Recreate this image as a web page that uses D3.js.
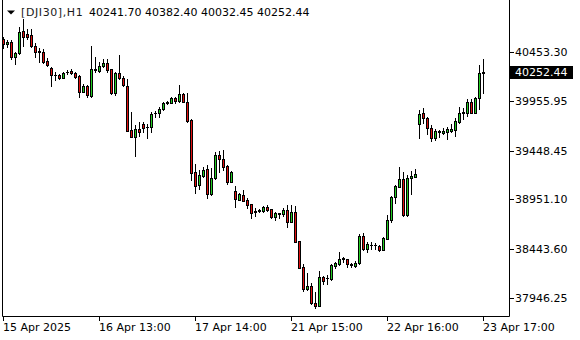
<!DOCTYPE html>
<html><head><meta charset="utf-8">
<script src="https://cdn.jsdelivr.net/npm/d3@7"></script>
<style>html,body{margin:0;padding:0;background:#fff;}svg{display:block;}</style>
</head><body>
<script>
const symbol = "DJI30", timeframe = "H1";
const open = [
40582.7,40531.7,40558.2,40405.4,40440.0,40667.3,40641.8,40626.6,40514.4,40458.4,
40450.2,40364.6,40295.3,40221.0,40218.9,40191.4,40244.4,40259.7,40236.2,40208.7,
40048.7,40106.8,40004.9,40277.0,40259.7,40310.6,40344.2,40277.0,40032.4,40236.2,
40191.4,40106.8,39658.4,39590.1,39665.5,39716.4,39687.9,39685.9,39826.6,39828.6,
39869.3,39930.5,39936.6,39981.5,39953.9,40025.2,39946.8,39760.3,39227.3,39097.9,
39189.6,39260.9,39003.1,39166.1,39403.6,39359.8,39291.5,39131.5,39036.8,38945.0,
38996.0,38950.0,38901.2,38829.8,38840.0,38829.8,38876.7,38850.2,38768.7,38811.5,
38799.2,38843.1,38723.9,38819.6,38527.2,38259.1,38038.0,38068.6,37898.3,37869.8,
38157.2,38149.1,38136.8,38272.4,38292.7,38343.7,38343.7,38291.7,38272.4,38299.9,
38578.1,38445.6,38488.4,38484.4,38476.2,38435.4,38547.5,38741.2,38972.5,39080.6,
39159.0,38792.1,39166.1,39182.4,39716.4,39828.6,39777.6,39675.7,39579.9,39643.1,
39630.9,39641.0,39651.2,39658.4,39743.0,39828.6,39828.6,39940.7,39834.7,39981.5,
40241.70];
const high = [
40609.2,40575.6,40570.5,40453.3,40708.1,40794.7,40684.6,40684.6,40542.0,40491.0,
40480.8,40389.1,40300.4,40252.5,40229.1,40252.5,40269.9,40280.1,40249.5,40218.9,
40127.2,40117.0,40514.4,40405.4,40354.4,40378.9,40378.9,40280.1,40244.4,40422.7,
40208.7,40175.1,39838.8,39709.3,39736.8,39736.8,39716.4,39838.8,39855.1,39889.7,
39943.7,39959.0,39997.7,39997.7,40117.0,40038.5,40038.5,39765.4,39311.9,39250.7,
39284.4,39301.7,39274.2,39431.1,39447.4,39454.5,39301.7,39235.5,39087.7,39016.3,
39052.0,38962.3,38909.3,38863.4,38853.2,38883.8,38894.0,38853.2,38822.7,38817.6,
38860.4,38894.0,38889.0,38883.8,38532.2,38292.7,38198.0,38096.0,38004.3,38221.5,
38170.5,38180.7,38292.7,38316.2,38418.1,38367.1,38348.8,38306.0,38323.3,38595.5,
38611.8,38513.9,38520.0,38509.8,38486.4,38564.8,38792.1,38985.8,39100.9,39281.4,
39233.4,39199.8,39240.6,39257.8,39862.2,39879.5,39787.8,39709.3,39663.5,39658.4,
39675.7,39692.0,39719.5,39777.6,39895.8,39879.5,39974.3,39974.3,39997.7,40320.8,
40382.40];
const low = [
40491.0,40504.3,40382.0,40327.9,40433.0,40514.4,40585.8,40504.3,40405.4,40354.4,
40338.1,40310.6,40106.8,40167.9,40178.1,40188.3,40229.1,40229.1,40188.3,39997.7,
40045.6,39994.7,39994.7,40252.5,40249.5,40305.5,40252.5,40025.2,40015.1,40178.1,
40106.8,39648.2,39584.0,39393.4,39600.3,39641.0,39573.8,39641.0,39787.8,39787.8,
39862.2,39923.4,39930.5,39930.5,39943.7,39943.7,39743.0,39148.8,39019.4,39054.1,
39179.4,38962.3,38996.0,39159.0,39230.4,39250.7,39105.0,39123.4,38876.7,38939.9,
38934.8,38863.4,38766.6,38785.0,38822.7,38822.7,38836.0,38761.5,38736.1,38761.5,
38781.9,38672.9,38720.8,38517.0,38252.0,38020.6,38027.8,37885.1,37841.3,37864.7,
38094.0,38085.9,38129.7,38248.9,38287.6,38316.2,38259.1,38265.2,38259.1,38292.7,
38440.5,38418.1,38442.6,38442.6,38425.2,38430.4,38542.5,38720.8,38917.5,39077.5,
38787.0,38787.0,39011.2,39176.3,39579.9,39732.7,39614.5,39549.3,39561.5,39590.1,
39617.6,39566.6,39641.0,39600.3,39734.8,39767.4,39804.1,39828.6,39828.6,39872.3,
40032.45];
const close = [
40531.7,40558.2,40405.4,40446.2,40660.2,40609.2,40611.2,40517.5,40456.3,40454.3,
40354.4,40320.8,40218.9,40216.9,40191.4,40242.3,40248.5,40236.2,40201.6,40045.6,
40106.8,40010.0,40277.0,40266.8,40310.6,40341.2,40269.9,40032.4,40236.2,40185.3,
40117.0,39651.2,39590.1,39665.5,39641.0,39681.8,39683.9,39821.4,39830.6,39869.3,
39933.5,39946.8,39984.5,39957.0,40025.2,39946.8,39753.2,39223.2,39087.7,39199.8,
39250.7,39003.1,39166.1,39403.6,39359.8,39284.4,39131.5,39227.3,38952.2,39006.1,
38937.8,38899.1,38817.6,38825.8,38836.0,38873.6,38843.1,38768.7,38812.5,38807.4,
38843.1,38723.9,38819.6,38520.0,38257.0,38038.0,38068.6,37892.2,37864.7,38157.2,
38122.6,38145.0,38282.6,38306.0,38340.6,38353.9,38289.7,38287.6,38306.0,38578.1,
38445.6,38496.6,38484.4,38488.4,38430.4,38554.7,38741.2,38978.6,39087.7,39156.0,
38792.1,39166.1,39189.6,39206.9,39821.4,39777.6,39675.7,39579.9,39648.2,39639.0,
39651.2,39668.6,39668.6,39750.1,39828.6,39844.9,39940.7,39834.7,39981.5,40236.2,
40252.44];
const priceTicks = [40453.30, 39955.95, 39448.45, 38951.10, 38443.60, 37946.25];
const timeTickBars = [0, 24, 48, 72, 96, 120];
const timeTickLabels = ["15 Apr 2025", "16 Apr 13:00", "17 Apr 14:00", "21 Apr 15:00", "22 Apr 16:00", "23 Apr 17:00"];

const W = 580, H = 340;
const FONT = "DejaVu Sans, sans-serif";
const plotL = 2, plotR = 509, plotB = 316;
const svg = d3.select("body").append("svg").attr("width", W).attr("height", H)
  .style("font-family", FONT);
svg.append("rect").attr("width", W).attr("height", H).attr("fill", "#fff");

const n = open.length;
const x = d3.scaleLinear().domain([0, 120]).range([3.5, 483.5]);
const y = d3.scaleLinear().domain([37946.25, 40453.30]).range([298, 52]);

svg.append("clipPath").attr("id", "plot").append("rect")
  .attr("x", plotL + 1).attr("y", 0).attr("width", plotR - plotL - 1).attr("height", plotB);

const g = svg.append("g").attr("clip-path", "url(#plot)");
const idx = d3.range(n);
g.selectAll("line.wick").data(idx).join("line").attr("class", "wick")
  .attr("x1", i => x(i)).attr("x2", i => x(i))
  .attr("y1", i => Math.round(y(high[i]))).attr("y2", i => Math.round(y(low[i])) + 1)
  .attr("stroke", "#000").attr("stroke-width", 1);
idx.forEach(i => {
  const top = Math.round(y(Math.max(open[i], close[i])));
  const bot = Math.round(y(Math.min(open[i], close[i])));
  const bull = close[i] >= open[i];
  if (bot - top < 1) {
    g.append("line").attr("x1", x(i) - 1.5).attr("x2", x(i) + 1.5)
      .attr("y1", top + 0.5).attr("y2", top + 0.5).attr("stroke", "#000");
  } else {
    g.append("rect").attr("x", x(i) - 1).attr("y", top + 0.5)
      .attr("width", 2).attr("height", bot - top)
      .attr("fill", bull ? "#22cc22" : "#e01010")
      .attr("stroke", "#000").attr("stroke-width", 1);
  }
});

svg.append("path").attr("d", `M${plotL + 0.5},0V${plotB + 0.5}H${plotR + 0.5}V0`)
  .attr("fill", "none").attr("stroke", "#000").attr("stroke-width", 1);

const ya = svg.append("g");
priceTicks.forEach(v => {
  const yy = Math.round(y(v)) + 0.5;
  ya.append("line").attr("x1", plotR + 1).attr("x2", plotR + 5).attr("y1", yy).attr("y2", yy).attr("stroke", "#000");
  ya.append("text").attr("x", 515).attr("y", yy).attr("dy", "0.36em")
    .attr("font-size", 11).attr("fill", "#000").text(v.toFixed(2));
});
const last = close[n - 1];
const ly = Math.round(y(last)) + 0.5;
svg.append("rect").attr("x", 510).attr("y", ly - 6.5).attr("width", 63).attr("height", 13).attr("fill", "#000");
svg.append("text").attr("x", 515).attr("y", ly).attr("dy", "0.36em").attr("font-size", 11)
  .attr("fill", "#fff").text(last.toFixed(2));

const xa = svg.append("g");
timeTickBars.forEach((b, k) => {
  const xx = x(b);
  xa.append("line").attr("x1", xx).attr("x2", xx).attr("y1", plotB + 1).attr("y2", plotB + 5).attr("stroke", "#000");
  xa.append("text").attr("x", xx - 0.5).attr("y", 331).attr("font-size", 11).attr("fill", "#000").text(timeTickLabels[k]);
});

svg.append("path").attr("d", "M7,10.5H15L11,14.5Z").attr("fill", "#000");
svg.append("text").attr("x", 21).attr("y", 16).attr("font-size", 11).attr("fill", "#1a1a1a")
  .attr("letter-spacing", 0.6).text(`[${symbol}],${timeframe}`);
svg.append("text").attr("x", 89).attr("y", 16).attr("font-size", 11).attr("fill", "#000")
  .text([open[n-1], high[n-1], low[n-1], close[n-1]].map(v => v.toFixed(2)).join(" "));
</script>
</body></html>
